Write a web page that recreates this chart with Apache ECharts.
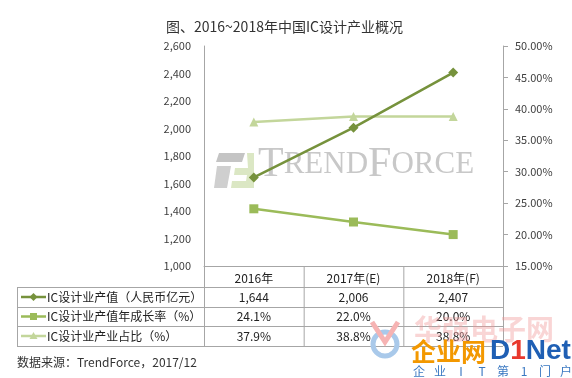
<!DOCTYPE html>
<html>
<head>
<meta charset="utf-8">
<script src="https://cdn.jsdelivr.net/npm/echarts@6/dist/echarts.min.js"></script>
<style>
    html, body { margin: 0; padding: 0; background: #fff; }
    #main { width: 572px; height: 378px; }
</style>
</head>
<body>
<div id="main"></div>
<script>
// 数据
var years = ['2016年', '2017年(E)', '2018年(F)'];
var outputValue = [1644, 2006, 2407];      // 产值（人民币亿元）
var growthRate = [24.1, 22.0, 20.0];       // 年成长率 %
var shareRate = [37.9, 38.8, 38.8];        // 产业占比 %
var seriesNames = ['IC设计业产值（人民币亿元）', 'IC设计业产值年成长率（%）', 'IC设计业产业占比（%）'];
var leftTicks = [1000, 2600, 200];         // min, max, interval
var rightTicks = [15, 50, 5];

var colors = ['#76923c', '#9bbb59', '#c3d69b'];
var symbols = ['diamond', 'rect', 'triangle'];
var font = '"Noto Sans CJK SC", "Liberation Sans", sans-serif';
var lineColor = '#a6a6a6';

var myChart = echarts.init(document.getElementById('main'));

function fmtComma(v) {
    return String(v).replace(/\B(?=(\d{3})+(?!\d))/g, ',');
}

var option = {
    backgroundColor: '#fff',
    animation: false,
    title: {
        text: '图、2016~2018年中国IC设计产业概况',
        left: 161,
        top: 15,
        textStyle: { fontSize: 14, fontWeight: 'normal', color: '#333', fontFamily: font }
    },
    grid: { left: 204, right: 69, top: 46, bottom: 112 },
    xAxis: {
        type: 'category',
        data: years,
        boundaryGap: true,
        axisLine: { lineStyle: { color: lineColor, width: 1 } },
        axisTick: { show: false },
        axisLabel: { margin: 6, fontSize: 12, color: '#222', fontFamily: font }
    },
    yAxis: [{
        type: 'value',
        min: leftTicks[0], max: leftTicks[1], interval: leftTicks[2],
        axisLine: { show: true, lineStyle: { color: lineColor } },
        axisTick: { show: false },
        splitLine: { show: false },
        axisLabel: {
            margin: 13, fontSize: 11, color: '#404040', fontFamily: font,
            formatter: function (v) { return fmtComma(v); }
        }
    }, {
        type: 'value',
        position: 'right',
        min: rightTicks[0], max: rightTicks[1], interval: rightTicks[2],
        axisLine: { show: true, lineStyle: { color: lineColor } },
        axisTick: { show: true, length: 5, lineStyle: { color: lineColor } },
        splitLine: { show: false },
        axisLabel: {
            margin: 12, fontSize: 11, color: '#404040', fontFamily: font,
            formatter: function (v) { return v.toFixed(2) + '%'; }
        }
    }],
    series: [
        { name: seriesNames[0], type: 'line', yAxisIndex: 0, data: outputValue },
        { name: seriesNames[1], type: 'line', yAxisIndex: 1, data: growthRate },
        { name: seriesNames[2], type: 'line', yAxisIndex: 1, data: shareRate }
    ].map(function (s, i) {
        s.symbol = symbols[i];
        s.symbolSize = i == 0 ? 10 : 9;
        s.lineStyle = { color: colors[i], width: 2.5 };
        s.itemStyle = { color: colors[i] };
        s.z = 3 - i;
        return s;
    })
};
myChart.setOption(option);

// 表格 + 水印 用graphic画
var g = [];
var rowY = [266, 287, 307, 326, 346];
var tableLeft = 17, axisL = 204, axisR = 503;
var centers = years.map(function (y) { return myChart.convertToPixel({ xAxisIndex: 0 }, y); });
var half = (centers[1] - centers[0]) / 2;

function hline(x1, x2, y) {
    g.push({ type: 'line', shape: { x1: x1, y1: y + 0.5, x2: x2, y2: y + 0.5 }, style: { stroke: lineColor, lineWidth: 1 } });
}
function vline(x, y1, y2) {
    g.push({ type: 'line', shape: { x1: x + 0.5, y1: y1, x2: x + 0.5, y2: y2 }, style: { stroke: lineColor, lineWidth: 1 } });
}
for (var r = 1; r < rowY.length; r++) hline(tableLeft, axisR, rowY[r]);
vline(tableLeft, rowY[1], rowY[4]);
centers.forEach(function (c, i) { if (i > 0) vline(c - half, rowY[0], rowY[4]); });
vline(axisL, rowY[0], rowY[4]);
vline(axisR, rowY[0], rowY[4]);

var cellText = [
    outputValue.map(fmtComma),
    growthRate.map(function (v) { return v.toFixed(1) + '%'; }),
    shareRate.map(function (v) { return v.toFixed(1) + '%'; })
];
seriesNames.forEach(function (name, i) {
    var cy = (rowY[i + 1] + rowY[i + 2]) / 2;
    // 图例小样
    g.push({ type: 'line', shape: { x1: 21, y1: cy, x2: 46, y2: cy }, style: { stroke: colors[i], lineWidth: 2.5 } });
    if (i == 0) g.push({ type: 'polygon', shape: { points: [[33.5, cy - 4], [37.5, cy], [33.5, cy + 4], [29.5, cy]] }, style: { fill: colors[i] } });
    if (i == 1) g.push({ type: 'rect', shape: { x: 30, y: cy - 3.5, width: 7, height: 7 }, style: { fill: colors[i] } });
    if (i == 2) g.push({ type: 'polygon', shape: { points: [[33.5, cy - 4], [37.5, cy + 3], [29.5, cy + 3]] }, style: { fill: colors[i] } });
    g.push({ type: 'text', x: 47, y: cy, style: { text: name, font: '12px ' + font, fill: '#222', textVerticalAlign: 'middle' } });
    cellText[i].forEach(function (t, j) {
        g.push({ type: 'text', x: centers[j], y: cy, style: { text: t, font: '12px ' + font, fill: '#222', textAlign: 'center', textVerticalAlign: 'middle' } });
    });
});

g.push({ type: 'text', x: 17, y: 362, style: { text: '数据来源：TrendForce，2017/12', font: '12px ' + font, fill: '#333', textVerticalAlign: 'middle' } });

// TrendForce 水印
g.push({ type: 'polygon', z: -1, shape: { points: [[219, 153], [245, 153], [242, 162], [216, 162]] }, style: { fill: '#c4c4c4' } });
g.push({ type: 'polygon', z: -1, shape: { points: [[217, 166], [231, 166], [227, 188], [214, 188]] }, style: { fill: '#cfcfcf' } });
g.push({ type: 'polygon', z: -1, shape: { points: [[247, 153], [254, 153], [254, 188], [231, 188], [232, 181], [246, 181], [247, 175], [234, 175], [235, 168], [248, 168]] }, style: { fill: '#dbe7c4' } });
g.push({
    type: 'text', z: -1, x: 258, y: 186,
    style: {
        text: '{a|T}{b|REND}{a|F}{b|ORCE}',
        textVerticalAlign: 'bottom',
        fill: '#c8c8c8',
        rich: {
            a: { fontSize: 42, fontFamily: '"Liberation Serif", serif', fill: '#c8c8c8' },
            b: { fontSize: 31, fontFamily: '"Liberation Serif", serif', fill: '#c8c8c8' }
        }
    }
});

// 右下角网站水印
g.push({ type: 'circle', z: 10, shape: { cx: 385, cy: 344, r: 12 }, style: { fill: 'none', stroke: '#a9c9ea', lineWidth: 5 } });
g.push({ type: 'polyline', z: 10, shape: { points: [[372, 322], [385, 342], [398, 322]] }, style: { stroke: '#f6b3b3', lineWidth: 5, fill: 'none' } });
g.push({ type: 'text', z: 10, x: 414, y: 329, style: { text: '华强电子网', font: 'bold 28px ' + font, fill: 'rgba(240,150,150,0.4)', textVerticalAlign: 'middle' } });
g.push({ type: 'text', z: 11, x: 411, y: 351, style: { text: '企业网', font: 'bold 25px ' + font, fill: '#f39800', textVerticalAlign: 'middle' } });
g.push({
    type: 'text', z: 11, x: 490, y: 351,
    style: {
        text: '{d|D}{o|1}{d|Net}', textVerticalAlign: 'middle',
        rich: {
            d: { fontSize: 28, fontWeight: 'bold', fontFamily: '"Liberation Sans", sans-serif', fill: '#1f5fb4' },
            o: { fontSize: 28, fontWeight: 'bold', fontFamily: '"Liberation Sans", sans-serif', fill: '#e8382d' }
        }
    }
});
'企业IT第1门户'.split('').forEach(function (ch, k) {
    g.push({ type: 'text', z: 11, x: 419 + k * 21, y: 371, style: { text: ch, font: '12px ' + font, fill: '#3a78c2', textAlign: 'center', textVerticalAlign: 'middle' } });
});

myChart.setOption({ graphic: g });
</script>
</body>
</html>
